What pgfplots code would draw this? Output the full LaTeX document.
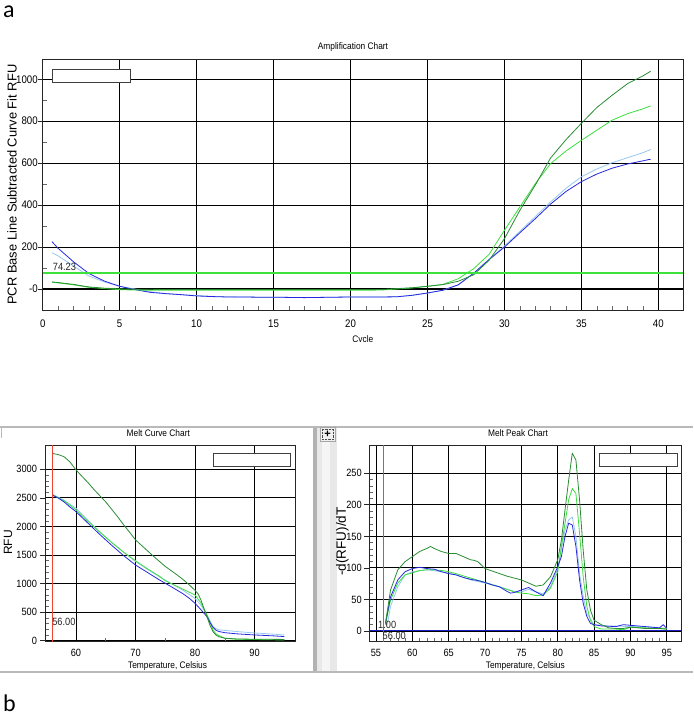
\documentclass[border=0pt]{standalone}
\usepackage{pgfplots}
\pgfplotsset{compat=1.18}
\usepackage{fontspec}
\setmainfont{Liberation Sans}
\newfontfamily\narrow{Liberation Sans}[FakeStretch=0.88]
\newfontfamily\calib{Carlito}
\definecolor{dgreen}{RGB}{40,140,50}
\definecolor{lgreen}{RGB}{60,222,60}
\definecolor{lblue}{RGB}{150,200,240}
\definecolor{dblue}{RGB}{40,40,225}
\definecolor{thrgreen}{RGB}{60,225,60}
\definecolor{redl}{RGB}{235,70,50}
\definecolor{zblue}{RGB}{30,30,200}

\pgfplotsset{
  chartbase/.style={
    scale only axis, anchor=south west, clip mode=individual,
    axis line style={draw=black!85, line width=0.9pt},
    tick align=inside, major tick length=0pt, minor tick length=4pt,
    minor tick style={black!60, line width=0.5pt},
    xtick pos=bottom, ytick pos=left,
    grid=major,
    /pgf/number format/assume math mode=true,
    /pgf/number format/1000 sep={},
    tick label style={text=black},
    xlabel style={anchor=center, font=\narrow\fontsize{9.5}{10}\selectfont},
    ylabel style={anchor=center},
  },
  curve/.style={line width=0.8pt, line join=round, mark=none},
}

\begin{document}
\begin{tikzpicture}[x=1pt,y=1pt]
\useasboundingbox (0,0) rectangle (693,717);

% panel frames of the lower screenshot
\fill[gray!18] (316.5,44.7) rectangle (337,290.3);
\fill[gray!8] (322,44.7) rectangle (330,275);
\fill[gray!60] (313,44.7) rectangle (316.5,290.3);
\draw[gray!55, line width=1.8pt] (0,290.3) -- (693,290.3);
\draw[gray!55, line width=1.8pt] (0,44.7) -- (693,44.7);
\draw[gray!55, line width=1pt] (1.5,290.3) -- (1.5,279);
\draw[gray!70, fill=gray!12] (320,276) rectangle (335,289.5);
\draw[black!70, densely dotted, line width=0.4pt] (321.8,277.8) rectangle (333.2,287.7);
\node[font=\bfseries\fontsize{11}{11}\selectfont, inner sep=0] at (327.5,282.8) {+};

% panel letters
\node[anchor=base west, inner sep=0, font=\calib\fontsize{24}{24}\selectfont] at (3,699.5) {a};
\node[anchor=base west, inner sep=0, font=\calib\fontsize{24}{24}\selectfont] at (3,5.5) {b};

% ---------------- Amplification chart ----------------
\begin{scope}
\clip (0,375.5) rectangle (693,717);
\begin{axis}[chartbase,
  at={(42.7pt,407pt)}, width=640.3pt, height=250.7pt,
  xmin=0, xmax=41.6, ymin=-100, ymax=1095,
  xtick={0,5,...,40}, ytick={0,200,...,1000},
  yticklabels={-0,200,400,600,800,1000},
  minor x tick num=4, minor y tick num=1,
  major grid style={black, line width=1.1pt},
  tick label style={font=\narrow\fontsize{11}{11}\selectfont},
  xticklabel style={yshift=-6pt},
  yticklabel style={xshift=-1.5pt},
  extra y ticks={0,200,...,1000}, extra y tick labels={},
  extra y tick style={tick align=outside, major tick length=5pt, grid=none,
     major tick style={black!85, line width=0.8pt}},
  xlabel={Cycle},
  xlabel style={at={(0.5,-0.118)}},
  ylabel={PCR Base Line Subtracted Curve Fit RFU},
  ylabel style={at={(-0.048,0.5)}, font=\fontsize{12.9}{13}\selectfont},
]
\addplot[curve, lblue] coordinates {
(0.6,173)(1,158)(2,110)(3,62)(4,34)(5,13)(6,0)(7,-13)(8,-22)(9,-27)(10,-31)(11,-35)(12,-37)
(13,-38)(14,-39)(15,-39)(16,-40)(17,-41)(18,-40)(19,-39)(20,-38)(21,-38)(22,-38)(23,-37)
(24,-30)(25,-19)(26,-6)(27,20)(28,76)(29,142)(30,205)(31,275)(32,345)(33,415)(34,480)
(35,535)(36,572)(37,602)(38,626)(39,650)(39.5,665)};
\addplot[curve, dblue] coordinates {
(0.6,226)(1,194)(2,130)(3,74)(4,38)(5,13)(6,-3)(7,-16)(8,-22)(9,-27)(10,-33)(11,-36)(12,-38)
(13,-38)(14,-39)(15,-39)(16,-40)(17,-41)(18,-40)(19,-39)(20,-38)(21,-38)(22,-38)(23,-37)
(24,-30)(25,-19)(26,-6)(27,20)(28,75)(29,140)(30,200)(31,268)(32,335)(33,405)(34,465)
(35,512)(36,548)(37,576)(38,596)(39,611)(39.5,619)};
\addplot[curve, lgreen] coordinates {
(0.6,32)(1,29)(2,20)(3,8)(4,2)(5,-3)(6,-5)(8,-6)(10,-6)(12,-6)(14,-6)(16,-6)(18,-6)(20,-6)
(22,-5)(23,0)(24,5)(25,13)(26,22)(27,49)(28,97)(29,165)(30,280)(31,391)(32,502)(33,598)
(34,658)(35,709)(36,757)(37,805)(38,836)(39,859)(39.5,873)};
\addplot[curve, dgreen] coordinates {
(0.6,34)(1,31)(2,22)(3,10)(4,4)(5,1)(6,-1)(8,-2)(10,-2)(12,-2)(14,-2)(16,-2)(18,-2)(20,-2)
(22,-2)(23,2)(24,6)(25,13)(26,21)(27,37)(28,68)(29,137)(30,240)(31,375)(32,495)(33,625)
(34,712)(35,790)(36,865)(37,924)(38,979)(39,1016)(39.5,1038)};
\addplot[draw=thrgreen, line width=1.9pt, mark=none] coordinates {(0,74.23) (41.6,74.23)};
\node[anchor=south west, inner sep=0, font=\narrow\fontsize{10.5}{11}\selectfont, text=black!85]
  at (axis cs:0.65,88) {74.23};
\draw[black!75, fill=white, line width=0.9pt]
  (rel axis cs:0.0156,0.9067) rectangle (rel axis cs:0.1363,0.9613);
\node[anchor=center, inner sep=0, font=\narrow\fontsize{9.5}{10}\selectfont]
  at (rel axis cs:0.4846,1.049) {Amplification Chart};
\end{axis}
\end{scope}

% ---------------- Melt curve chart ----------------
\begin{axis}[chartbase,
  at={(45pt,75.3pt)}, width=250.7pt, height=196.7pt,
  xmin=54.8, xmax=96.9, ymin=-18, ymax=3427,
  xtick={60,70,80,90}, ytick={0,500,...,3000},
  minor x tick num=1, minor y tick num=4,
  major grid style={black, line width=0.9pt},
  tick label style={font=\narrow\fontsize{10.5}{11}\selectfont},
  xticklabel style={yshift=-4pt},
  yticklabel style={xshift=-4.5pt},
  extra y ticks={0,500,...,3000}, extra y tick labels={},
  extra y tick style={tick align=outside, major tick length=5pt, grid=none,
     major tick style={black!85, line width=0.8pt}},
  xlabel={Temperature, Celsius},
  xlabel style={at={(0.489,-0.1235)}},
  ylabel={RFU},
  ylabel style={at={(-0.1476,0.504)}, font=\fontsize{12}{12}\selectfont},
]
\addplot[curve, lblue] coordinates {
(56,2570)(58,2460)(60,2320)(62,2110)(64,1910)(66,1720)(68,1550)(70,1385)(72,1250)(74,1120)
(76,1000)(78,880)(80,740)(81,620)(82,450)(83,250)(83.5,210)(84,190)(85,180)(87,160)(90,135)
(93,115)(95,100)};
\addplot[curve, lgreen] coordinates {
(56,2555)(58,2450)(60,2290)(62,2090)(64,1900)(66,1720)(68,1550)(70,1400)(72,1260)(74,1130)
(75,1050)(76,1000)(78,900)(79,850)(80,800)(81,660)(82,450)(82.5,330)(83,190)(83.5,120)(84,90)
(85,42)(87,25)(90,20)(95,12)};
\addplot[curve, dblue] coordinates {
(56,2550)(57,2500)(58,2430)(59,2340)(60,2260)(62,2060)(64,1860)(65,1765)(66,1670)(68,1490)
(70,1325)(72,1195)(74,1065)(75,1005)(76,945)(78,820)(79,745)(80,655)(81,540)(82,420)
(82.5,320)(83,235)(83.5,185)(84,160)(85,140)(87,120)(90,100)(93,85)(95,72)};
\addplot[curve, dgreen] coordinates {
(56,3280)(57,3260)(58,3222)(59,3130)(60,2990)(61,2880)(62,2770)(63,2650)(64,2540)(65,2430)
(66,2300)(67,2170)(68,2030)(69,1900)(70,1765)(71,1670)(72,1575)(73,1480)(74,1390)(75,1300)
(76,1225)(77,1150)(78,1070)(79,980)(80,880)(80.5,820)(81,710)(81.5,560)(82,420)(82.5,270)
(83,160)(83.5,100)(84,70)(85,42)(87,30)(90,25)(95,22)};
\addplot[draw=redl, line width=1pt, mark=none] coordinates {(56,-18) (56,3427)};
\node[anchor=west, inner sep=0, font=\narrow\fontsize{10.5}{11}\selectfont, text=black!85]
  at (axis cs:56,333) {56.00};
\draw[black!75, fill=white, line width=0.9pt]
  (rel axis cs:0.671,0.893) rectangle (rel axis cs:0.981,0.958);
\node[anchor=center, inner sep=0, font=\narrow\fontsize{9.5}{10}\selectfont]
  at (rel axis cs:0.452,1.0595) {Melt Curve Chart};
\end{axis}

% ---------------- Melt peak chart ----------------
\begin{axis}[chartbase,
  at={(369.3pt,75.3pt)}, width=312.4pt, height=196.7pt,
  xmin=54.08, xmax=97.05, ymin=-17, ymax=295,
  xtick={55,60,...,95}, ytick={0,50,...,250},
  minor x tick num=4, minor y tick num=4,
  major grid style={black, line width=0.9pt},
  tick label style={font=\narrow\fontsize{10.5}{11}\selectfont},
  xticklabel style={yshift=-4pt},
  yticklabel style={xshift=-4pt},
  extra y ticks={0,50,...,250}, extra y tick labels={},
  extra y tick style={tick align=outside, major tick length=5pt, grid=none,
     major tick style={black!85, line width=0.8pt}},
  xlabel={Temperature, Celsius},
  xlabel style={at={(0.4995,-0.1235)}},
  ylabel={-d(RFU)/dT},
  ylabel style={at={(-0.0864,0.509)}, font=\fontsize{13.5}{14}\selectfont},
]
\addplot[draw=zblue, line width=1pt, mark=none] coordinates {(54.08,0) (97.05,0)};
\addplot[curve, lblue] coordinates {
(56.5,7)(57,39)(58,70)(59,89)(60,94)(62,97)(64,94)(66,89)(68,81)(70,76)(72,70)(74,63)(75,62)
(76,66)(77,62)(78,59)(79,70)(80,99)(80.5,130)(81,160)(81.5,176)(82,181)(82.5,150)(83,91)
(83.5,55)(84,28)(85,10)(87,8)(90,7)(93,6)(95,4)};
\addplot[curve, lgreen] coordinates {
(56.3,10)(57,49)(58,76)(59,89)(60,92)(61,96)(62,97)(63,97)(64,96)(65,94)(66,91)(68,84)(70,77)
(72,70)(74,62)(75,60)(76,59)(77,56)(78,57)(79,68)(80,94)(80.5,134)(81,171)(81.5,208)(82,226)
(82.5,218)(83,155)(83.5,86)(84,39)(84.5,17)(85,7)(86,3)(88,3)(89,2)(90,6)(92,5)(95,3)};
\addplot[curve, dblue] coordinates {
(56.3,12)(57,54)(58,81)(59,94)(60,99)(61,101)(62,99)(63,98)(64,94)(65,91)(66,89)(67,85)(68,82)
(69,80)(70,77)(71,73)(72,70)(73,63)(73.5,60)(74,61)(75,65)(76,69)(77,62)(78,56)(79,76)(80,102)
(80.5,118)(81,150)(81.5,171)(82,168)(82.5,134)(83,81)(83.5,44)(84,23)(84.5,12)(85,10)(86,8)
(88,7)(89,10)(90,9)(92,7)(94,5)(94.5,10)(95,4)};
\addplot[curve, dgreen] coordinates {
(56.3,12)(57,65)(58,97)(59,110)(60,118)(61,126)(62,131)(62.5,134)(63,131)(64,126)(65,123)
(66,123)(67,118)(68,113)(68.5,112)(69,110)(70,99)(71,95)(72,91)(73,87)(74,84)(75,81)(76,76)
(77,71)(78,73)(79,86)(80,113)(80.5,144)(81,192)(81.5,239)(82,282)(82.5,271)(83,208)(83.5,128)
(84,65)(84.5,33)(85,17)(86,10)(87,5)(88,4)(89,4)(90,6)(91,5)(92,4)(93,4)(94,4)(95,3)};
\addplot[draw=redl, line width=1.3pt, mark=none] coordinates {(56,-17) (56,295)};
\node[anchor=west, inner sep=0, font=\narrow\fontsize{10.5}{11}\selectfont, text=black!85]
  at (axis cs:55.28,9.5) {1.00};
\node[anchor=west, inner sep=0, font=\narrow\fontsize{10.5}{11}\selectfont, text=black!85]
  at (axis cs:55.9,-8) {56.00};
\draw[black!75, fill=white, line width=0.9pt]
  (rel axis cs:0.736,0.893) rectangle (rel axis cs:0.986,0.958);
\node[anchor=center, inner sep=0, font=\narrow\fontsize{9.5}{10}\selectfont]
  at (rel axis cs:0.476,1.0595) {Melt Peak Chart};
\end{axis}
\end{tikzpicture}
\end{document}
